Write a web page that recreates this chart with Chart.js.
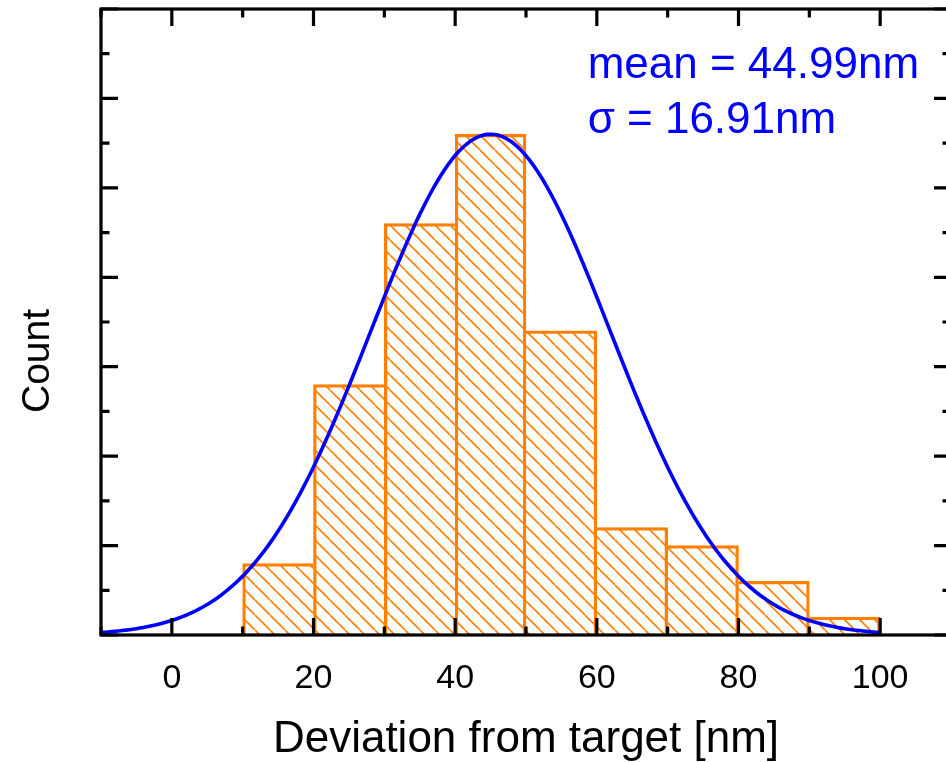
<!DOCTYPE html>
<html>
<head>
<meta charset="utf-8">
<title>Deviation histogram</title>
<script src="https://cdn.jsdelivr.net/npm/chart.js@4/dist/chart.umd.min.js"></script>
<style>
  html, body { margin: 0; padding: 0; background: #ffffff; overflow: hidden; }
  #wrap { width: 946px; height: 762px; overflow: hidden; position: relative; }
  #box { position: absolute; left: 0; top: 0; width: 960px; height: 762px; }
</style>
</head>
<body>
<div id="wrap"><div id="box"><canvas id="chart"></canvas></div></div>
<script>
// Histogram bins (left edges, nm) and their counts
const binStarts = [10, 20, 30, 40, 50, 60, 70, 80, 90];
const binWidth = 10;
const counts = [4, 14, 23, 28, 17, 6, 5, 3, 1];

// Axis ticks
const xTickLabels = [0, 20, 40, 60, 80, 100];
const xMin = -10, xMax = 110, xMajor = 20, xMinor = 10;
const yMin = 0, yMax = 35, yMajor = 5, yMinor = 2.5;

// Normal fit parameters shown in the annotation
const fitMean = 44.99;
const fitSigma = 16.91;
const fitPeak = 28;
const fitFrom = -10, fitTo = 100, fitStep = 0.5;
const statLines = ['mean = 44.99nm', '\u03c3 = 16.91nm'];

const FONT = "'Liberation Sans', Arial, Helvetica, sans-serif";
const ORANGE = '#ff8000';
const BLUE = '#0000ff';

// Bars centred on their bins
const barPoints = binStarts.map((s, i) => ({ x: s + binWidth / 2, y: counts[i] }));

// Fitted Gaussian sampled along the x range
const fitPoints = [];
for (let v = fitFrom; v <= fitTo + 1e-9; v += fitStep) {
  const z = (v - fitMean) / fitSigma;
  fitPoints.push({ x: v, y: fitPeak * Math.exp(-0.5 * z * z) });
}

// Diagonal hatch fill
function hatch(color) {
  const s = 15;
  const c = document.createElement('canvas');
  c.width = s; c.height = s;
  const g = c.getContext('2d');
  g.strokeStyle = color;
  g.lineWidth = 1.6;
  g.beginPath();
  for (let k = -1; k <= 1; k++) {
    g.moveTo(k * s, 0);
    g.lineTo(k * s + s, s);
  }
  g.stroke();
  return g.createPattern(c, 'repeat');
}

// Draw each shared edge once so neighbouring bars keep a single outline
function edgeWidths(ctx) {
  const i = ctx.dataIndex;
  const h = counts[i];
  const w = 2.6;
  const left = (i === 0 || counts[i - 1] < h) ? w : 0;
  const right = (i === counts.length - 1 || counts[i + 1] <= h) ? w : 0;
  return { top: w, left: left, right: right, bottom: 0 };
}

// Box frame with inward tick marks, plus the rotated y title and the fit stats
const frameAndTicks = {
  id: 'frameAndTicks',
  afterDatasetsDraw(chart) {
    const { ctx, chartArea: a, scales: { x, y } } = chart;
    ctx.save();
    ctx.strokeStyle = '#000';
    ctx.lineWidth = 3.2;
    ctx.strokeRect(a.left, a.top, a.right - a.left, a.bottom - a.top);
    ctx.beginPath();
    for (let v = xMin; v <= xMax + 1e-9; v += xMinor) {
      const px = x.getPixelForValue(v);
      const len = (Math.abs(v % xMajor) < 1e-9) ? 17 : 8.5;
      ctx.moveTo(px, a.bottom); ctx.lineTo(px, a.bottom - len);
      ctx.moveTo(px, a.top); ctx.lineTo(px, a.top + len);
    }
    for (let v = yMin; v <= yMax + 1e-9; v += yMinor) {
      const py = y.getPixelForValue(v);
      const len = (Math.abs(v % yMajor) < 1e-9) ? 17 : 8.5;
      ctx.moveTo(a.left, py); ctx.lineTo(a.left + len, py);
      ctx.moveTo(a.right, py); ctx.lineTo(a.right - len, py);
    }
    ctx.stroke();

    // y axis title
    ctx.save();
    ctx.translate(38.5, 361);
    ctx.rotate(-Math.PI / 2);
    ctx.fillStyle = '#000';
    ctx.font = '39px ' + FONT;
    ctx.textAlign = 'center';
    ctx.textBaseline = 'middle';
    ctx.fillText('Count', 0, 0);
    ctx.restore();

    // fit statistics
    ctx.fillStyle = BLUE;
    ctx.font = '44px ' + FONT;
    ctx.textAlign = 'left';
    ctx.textBaseline = 'alphabetic';
    const sx = x.getPixelForValue(58.7);
    const sy = y.getPixelForValue(31.15);
    statLines.forEach((t, i) => ctx.fillText(t, sx, sy + i * 55));
    ctx.restore();
  }
};

new Chart(document.getElementById('chart'), {
  type: 'bar',
  data: {
    datasets: [
      {
        type: 'line',
        label: 'fit',
        data: fitPoints,
        borderColor: BLUE,
        borderWidth: 3.6,
        pointRadius: 0,
        fill: false,
        tension: 0,
        order: 0
      },
      {
        type: 'bar',
        label: 'counts',
        data: barPoints,
        backgroundColor: hatch(ORANGE),
        borderColor: ORANGE,
        borderWidth: edgeWidths,
        borderSkipped: false,
        barPercentage: 1,
        categoryPercentage: 1,
        order: 1
      }
    ]
  },
  options: {
    responsive: true,
    maintainAspectRatio: false,
    animation: false,
    layout: { padding: { top: 9, right: 9, bottom: 0, left: 0 } },
    plugins: { legend: { display: false }, tooltip: { enabled: false } },
    scales: {
      x: {
        type: 'linear',
        min: xMin,
        max: xMax,
        offset: false,
        grid: { display: false },
        border: { display: false },
        afterBuildTicks: (s) => { s.ticks = xTickLabels.map(v => ({ value: v })); },
        afterFit: (s) => { s.height = 127; },
        ticks: {
          color: '#000',
          font: { family: FONT, size: 34 },
          padding: 15,
          maxRotation: 0,
          autoSkip: false
        },
        title: {
          display: true,
          text: 'Deviation from target [nm]',
          color: '#000',
          font: { family: FONT, size: 44, lineHeight: 1 },
          padding: { top: 0, bottom: 0 }
        }
      },
      y: {
        min: yMin,
        max: yMax,
        grid: { display: false },
        border: { display: false },
        ticks: { display: false },
        afterFit: (s) => { s.width = 101; }
      }
    }
  },
  plugins: [frameAndTicks]
});
</script>
</body>
</html>
